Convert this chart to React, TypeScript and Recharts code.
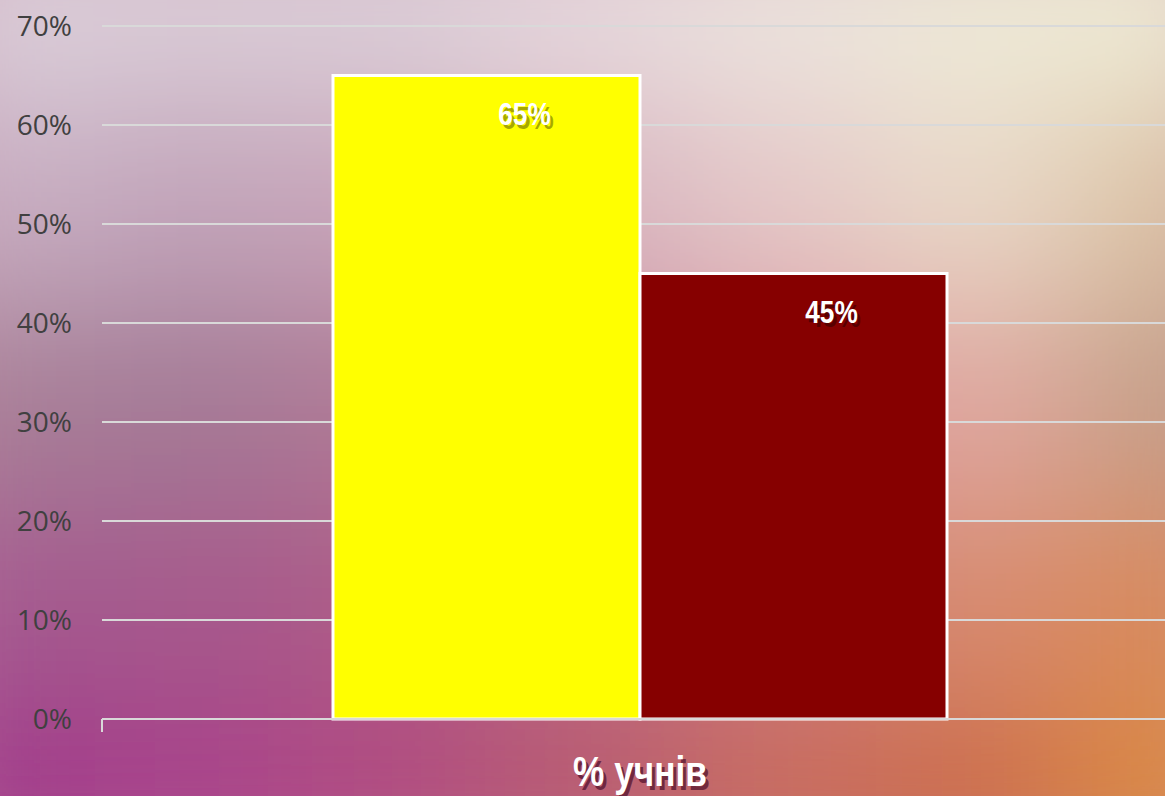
import React from 'react';
import { BarChart, Bar, XAxis, YAxis, CartesianGrid, LabelList } from 'recharts';

const categories = ['% учнів'];
const seriesYellow = [0.65];
const seriesMaroon = [0.45];
const yTicks = [0, 0.1, 0.2, 0.3, 0.4, 0.5, 0.6, 0.7];

const data = categories.map((name, i) => ({ name, yellow: seriesYellow[i], maroon: seriesMaroon[i] }));

const CHART_W = 1178;
const CHART_H = 796;
const Y_AXIS_W = 102;
const PLOT_W = CHART_W - Y_AXIS_W;

// decorative background colour grid (blurred)
const bgRows = [
  ['#dccfda', '#dbcdd8', '#dccfd9', '#e6d9de', '#ece4df', '#eeead8', '#efecd6'],
  ['#c8aec2', '#c2a4ba', '#c9a6ba', '#d8b4c0', '#e4c8c8', '#e8d8c8', '#dcc2a4'],
  ['#a88098', '#a47a96', '#b07a96', '#c88ca0', '#dc98a0', '#e0a8a0', '#c4a088'],
  ['#a45a90', '#a65a8c', '#ae5c88', '#bc6a84', '#cc7c80', '#d88c70', '#d88a5c'],
  ['#a0388a', '#a8408a', '#b04a80', '#b85a70', '#c86a5c', '#cc6c48', '#dc8a40'],
];

const Background = () => {
  const cw = 1365 / 7;
  const ch = 996 / 5;
  return (
    <svg width={1165} height={796} style={{ position: 'absolute', left: 0, top: 0 }}>
      <defs>
        <filter id="bgblur" x="-20%" y="-20%" width="140%" height="140%">
          <feGaussianBlur stdDeviation="70" />
        </filter>
      </defs>
      <rect x={0} y={0} width={1165} height={796} fill="#c48aa0" />
      <g filter="url(#bgblur)">
        {bgRows.map((row, r) =>
          row.map((c, k) => (
            <rect key={r + '-' + k} x={-100 + k * cw} y={-100 + r * ch} width={cw + 1} height={ch + 1} fill={c} />
          ))
        )}
      </g>
    </svg>
  );
};

const fmt = (v: number) => Math.round(v * 100) + '%';
const BOLD = '"Liberation Sans", Arial, sans-serif';
const SQUEEZE = 0.82;

const ShadowText = ({ x, y, size, text, shadow }: any) => {
  const style = { fontFamily: BOLD, fontWeight: 700, fontSize: size } as any;
  return (
    <g>
      <g transform={`translate(${x + 3},${y + 4}) scale(${SQUEEZE},1)`}>
        <text x={0} y={0} textAnchor="middle" fill={shadow} style={style}>{text}</text>
      </g>
      <g transform={`translate(${x},${y}) scale(${SQUEEZE},1)`}>
        <text x={0} y={0} textAnchor="middle" fill="#ffffff" style={style}>{text}</text>
      </g>
    </g>
  );
};

const ValueLabel = (props: any) => {
  const { x, y, width, value } = props;
  return <ShadowText x={x + width / 2 + 38} y={y + 49} size={32} text={fmt(value)} shadow="rgba(0,0,0,0.35)" />;
};

const XTick = (props: any) => {
  const { x, y, payload } = props;
  const left = x - PLOT_W / 2;
  return (
    <g>
      <line x1={left} y1={y} x2={left} y2={y + 13} stroke="#d9d9d9" strokeWidth={2} />
      <ShadowText x={x} y={y + 67} size={43} text={payload.value} shadow="rgba(60,0,30,0.6)" />
    </g>
  );
};

export default function App() {
  return (
    <div style={{ position: 'absolute', left: 0, top: 0, width: 1165, height: 796, overflow: 'hidden' }}>
      <Background />
      <div style={{ position: 'absolute', left: 0, top: 0 }}>
        <BarChart
          width={CHART_W}
          height={CHART_H}
          data={data}
          margin={{ top: 26, right: 0, bottom: 0, left: 0 }}
          barCategoryGap={231}
          barGap={0}
        >
          <CartesianGrid vertical={false} stroke="#d9d9d9" strokeWidth={2} />
          <XAxis
            dataKey="name"
            height={77}
            tickSize={0}
            tickMargin={0}
            tickLine={false}
            axisLine={{ stroke: '#d9d9d9', strokeWidth: 2 }}
            tick={<XTick />}
            interval={0}
          />
          <YAxis
            width={Y_AXIS_W}
            domain={[0, 0.7]}
            ticks={yTicks}
            tickFormatter={fmt}
            axisLine={false}
            tickLine={false}
            tickSize={0}
            tickMargin={30}
            tick={{ fill: '#404040', fontSize: 28, fontFamily: '"Open Sans", sans-serif' }}
          />
          <Bar dataKey="yellow" fill="#ffff00" stroke="#ffffff" strokeWidth={3} isAnimationActive={false}>
            <LabelList dataKey="yellow" content={<ValueLabel />} />
          </Bar>
          <Bar dataKey="maroon" fill="#860000" stroke="#ffffff" strokeWidth={3} isAnimationActive={false}>
            <LabelList dataKey="maroon" content={<ValueLabel />} />
          </Bar>
        </BarChart>
      </div>
    </div>
  );
}
